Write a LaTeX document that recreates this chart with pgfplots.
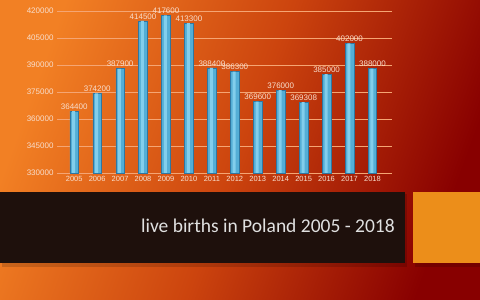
\documentclass[border=0pt]{standalone}
\usepackage{pgfplots}
\pgfplotsset{compat=1.18}
\usepackage{fontspec}
\setmainfont{Liberation Sans}
\newfontfamily\titlefont{Carlito}
\definecolor{bgA}{RGB}{242,128,36}
\definecolor{bgM}{RGB}{204,68,14}
\definecolor{bgB}{RGB}{136,0,0}
\definecolor{titledark}{RGB}{30,16,12}
\definecolor{titleorange}{RGB}{236,142,26}
\definecolor{barlight}{RGB}{130,206,236}
\definecolor{barmid}{RGB}{84,174,214}
\definecolor{bardark}{RGB}{48,118,160}
\definecolor{labcol}{RGB}{248,222,205}
\definecolor{gridcol}{RGB}{245,165,115}
\pgfplotstableread{
year value
2005 364400
2006 374200
2007 387900
2008 414500
2009 417600
2010 413300
2011 388400
2012 386300
2013 369600
2014 376000
2015 369308
2016 385000
2017 402000
2018 388000
}\births
\begin{document}
\begin{tikzpicture}
\shade[left color=bgA, right color=bgB, middle color=bgM, shading angle=70] (0pt,0pt) rectangle (480pt,300pt);
\fill[black, opacity=0.15] (2pt,33pt) rectangle (407pt,106pt);
\fill[black, opacity=0.15] (415pt,33pt) rectangle (480pt,106pt);
\fill[titledark] (0pt,37pt) rectangle (405pt,108pt);
\fill[titleorange] (413pt,37pt) rectangle (480pt,108pt);
\node[anchor=east, text=white!88!black, font=\titlefont\fontsize{19.5}{24}\selectfont, inner sep=0pt] at (395pt,74pt) {live births in Poland 2005 - 2018};
\begin{axis}[
  at={(57pt,127pt)}, anchor=south west,
  width=335pt, height=162pt, scale only axis,
  xmin=2004.25, xmax=2018.85,
  ymin=330000, ymax=420000,
  ytick={330000,345000,360000,375000,390000,405000,420000},
  xtick={2005,...,2018},
  scaled y ticks=false,
  /pgf/number format/.cd, fixed, precision=0, 1000 sep={}, assume math mode=true, /pgfplots/.cd,
  axis line style={draw=none},
  major tick length=0pt,
  ymajorgrids, grid style={gridcol, line width=0.6pt},
  xticklabel style={font=\fontsize{7.5}{8}\selectfont, text=labcol},
  yticklabel style={font=\fontsize{8}{9}\selectfont, text=labcol},
  ybar, bar width=8.5pt,
  clip=false,
  every node near coord/.append style={font=\fontsize{8}{9}\selectfont, text=labcol, inner sep=1.5pt},
]
\addplot[draw=bardark, line width=0.6pt, fill=barmid, bar shift=0pt, nodes near coords] table[x=year, y=value] {\births};
\addplot[draw=none, fill=barlight, bar width=3pt, bar shift=-0.6pt] table[x=year, y=value] {\births};
\end{axis}
\end{tikzpicture}
\end{document}
